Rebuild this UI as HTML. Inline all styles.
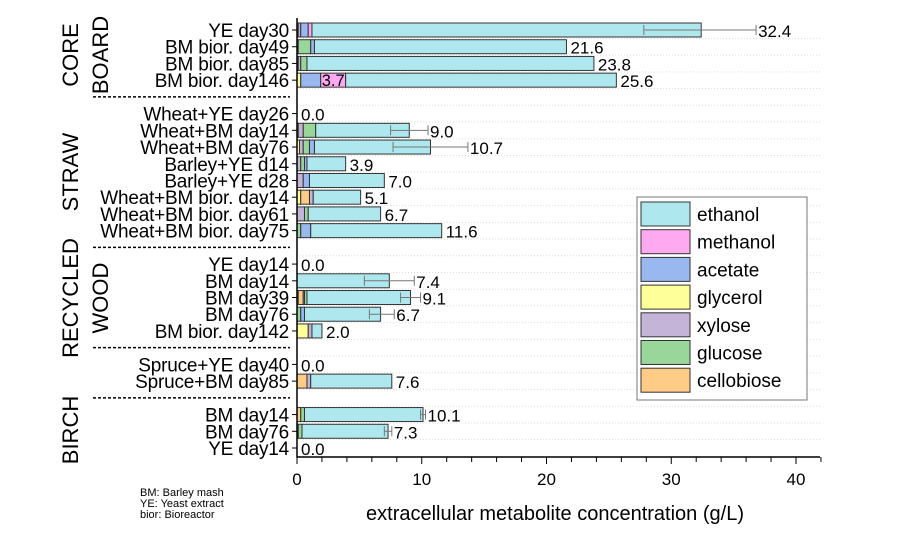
<!DOCTYPE html>
<html><head><meta charset="utf-8"><style>
body{margin:0;background:#fff}
svg{display:block;font-family:"Liberation Sans",Arial,sans-serif}
</style></head><body>
<svg id="chart" width="912" height="546"></svg>
<script>
const categories=["YE day30","BM bior. day49","BM bior. day85","BM bior. day146",null,
"Wheat+YE day26","Wheat+BM day14","Wheat+BM day76","Barley+YE d14","Barley+YE d28","Wheat+BM bior. day14","Wheat+BM bior. day61","Wheat+BM bior. day75",null,
"YE day14","BM day14","BM day39","BM day76","BM bior. day142",null,
"Spruce+YE day40","Spruce+BM day85",null,
"BM day14","BM day76","YE day14"];
const seriesNames=["glycerol","cellobiose","xylose","glucose","acetate","methanol","ethanol"];
const seriesColors=["#ffff99","#ffcc88","#c4b4d8","#99d699","#99b8f0","#ffaaf0","#aee8ee"];
const glycerol=[0.1,0.1,0,0.3,0, 0,0.1,0.2,0,0,0.3,0,0, 0, 0,0,0.1,0,0.9, 0, 0,0, 0, 0,0,0];
const cellobiose=[0,0,0.1,0,0, 0,0,0,0,0,0.7,0,0, 0, 0,0,0.4,0,0, 0, 0,0.8, 0, 0.3,0,0];
const xylose=[0.2,0,0.2,0,0, 0,0.4,0.3,0.3,0.5,0.3,0.6,0, 0, 0,0,0.1,0,0.3, 0, 0,0.3, 0, 0,0.1,0];
const glucose=[0,1.0,0.5,0,0, 0,1.0,0.5,0.3,0,0,0.3,0.3, 0, 0,0,0.2,0.3,0, 0, 0,0, 0, 0.3,0.3,0];
const acetate=[0.6,0.3,0,1.6,0, 0,0,0.4,0.2,0.5,0,0,0.8, 0, 0,0,0,0.3,0, 0, 0,0, 0, 0,0,0];
const methanol=[0.3,0,0,2.0,0, 0,0,0,0,0,0,0,0, 0, 0,0,0,0,0, 0, 0,0, 0, 0,0,0];
const totals=[32.4,21.6,23.8,25.6,null, 0.0,9.0,10.7,3.9,7.0,5.1,6.7,11.6,null, 0.0,7.4,9.1,6.7,2.0,null, 0.0,7.6,null, 10.1,7.3,0.0];
const errLow=[27.8,null,null,null,null, null,7.5,7.7,null,null,null,null,null,null, null,5.4,8.3,5.8,null,null, null,null,null, 9.9,7.0,null];
const errHigh=[36.8,null,null,null,null, null,10.5,13.7,null,null,null,null,null,null, null,9.4,9.9,7.8,null,null, null,null,null, 10.3,7.6,null];
const xTicks=[0,10,20,30,40];

const svg=document.getElementById('chart');
const NS='http://www.w3.org/2000/svg';
function mk(t,a,p){const e=document.createElementNS(NS,t);for(const k in a)e.setAttribute(k,a[k]);(p||svg).appendChild(e);return e;}
const x0=297,pxPer=12.475,yTop=30,step=16.72,axisY=457;
const X=v=>x0+v*pxPer, Y=i=>yTop+i*step;
const bh=14;

for(let i=0;i<categories.length;i++){
  const g=mk('line',{x1:x0,x2:820,y1:Y(i)+8.4,y2:Y(i)+8.4,stroke:'#ddd','stroke-dasharray':'1 2'});
  
}
const segs=[glycerol,cellobiose,xylose,glucose,acetate,methanol];
categories.forEach((c,i)=>{
  if(c===null){
    const s=mk('line',{x1:93,x2:290,y1:Y(i),y2:Y(i),stroke:'#000','stroke-width':1.5,'stroke-dasharray':'3 2'});
    
    return;
  }
  const yc=Y(i);
  const lab=mk('text',{x:289,y:yc+7,'text-anchor':'end','font-size':19,'letter-spacing':'-0.2'});
  lab.textContent=c;
  
  const tk=mk('line',{x1:x0-5,x2:x0,y1:yc,y2:yc,stroke:'#000'});
  
  const tot=totals[i];
  if(tot>0){
    let acc=0;
    segs.forEach((arr,k)=>{
      const v=arr[i];if(!v)return;
      const r=mk('rect',{x:X(acc),y:yc-bh/2,width:v*pxPer,height:bh,fill:seriesColors[k],stroke:'#333','stroke-width':1});
      
      acc+=v;
    });
    const r=mk('rect',{x:X(acc),y:yc-bh/2,width:Math.max(0,(tot-acc)*pxPer),height:bh,fill:seriesColors[6],stroke:'#333','stroke-width':1});
    
    if(i===3){const t=mk('text',{x:X(acc)-1,y:yc+6,'text-anchor':'end','font-size':16.5});t.textContent='3.7';
      }
  }
  let lx=X(tot)+4;
  if(errHigh[i]!=null){
    const g=mk('g',{stroke:'#777','stroke-width':1});
    
    mk('line',{x1:X(errLow[i]),x2:X(errHigh[i]),y1:yc,y2:yc},g);
    mk('line',{x1:X(errLow[i]),x2:X(errLow[i]),y1:yc-5,y2:yc+5},g);
    mk('line',{x1:X(errHigh[i]),x2:X(errHigh[i]),y1:yc-5,y2:yc+5},g);
    lx=Math.max(lx,X(errHigh[i])+2);
  }
  const vt=mk('text',{x:lx,y:yc+7,'font-size':17});
  vt.textContent=tot.toFixed(1);
  
});
const ax=mk('path',{d:`M${x0},18 V${axisY} H820`,stroke:'#000','stroke-width':1.5,fill:'none'});

for(let v=0;v<=42;v+=2){
  const major=v%10===0;
  const t=mk('line',{x1:X(v),x2:X(v),y1:axisY,y2:axisY+(major?7:5),stroke:'#000'});
  
}
xTicks.forEach(v=>{
  const t=mk('text',{x:X(v),y:485,'text-anchor':'middle','font-size':17});t.textContent=v;
  
});
const xt=mk('text',{x:555,y:520,'text-anchor':'middle','font-size':20});
xt.textContent='extracellular metabolite concentration (g/L)';

[[["CORE","BOARD"],55],[["STRAW"],172],[["RECYCLED","WOOD"],298],[["BIRCH"],430]].forEach(([ls,cy])=>{
  ls.forEach((l,j)=>{
    const xx=ls.length===1?78:(j===0?78:108);
    const t=mk('text',{x:xx,y:cy,'text-anchor':'middle','font-size':22,transform:`rotate(-90 ${xx} ${cy})`});
    t.textContent=l;
    
  });
});
["BM: Barley mash","YE: Yeast extract","bior: Bioreactor"].forEach((s,j)=>{
  const t=mk('text',{x:140,y:496+j*11,'font-size':11});t.textContent=s;
  
});
const lg=mk('g',{});

mk('rect',{x:637,y:197,width:170,height:203,fill:'#fff',stroke:'#777'},lg);
const legOrder=[6,5,4,0,2,3,1];
legOrder.forEach((k,j)=>{
  const y=202+j*27.7;
  const e=mk('g',{},lg);
  
  mk('rect',{x:641,y:y,width:49,height:24,fill:seriesColors[k],stroke:'#333'},e);
  const t=mk('text',{x:697,y:y+19,'font-size':19},e);t.textContent=seriesNames[k];
});
</script>
</body></html>
